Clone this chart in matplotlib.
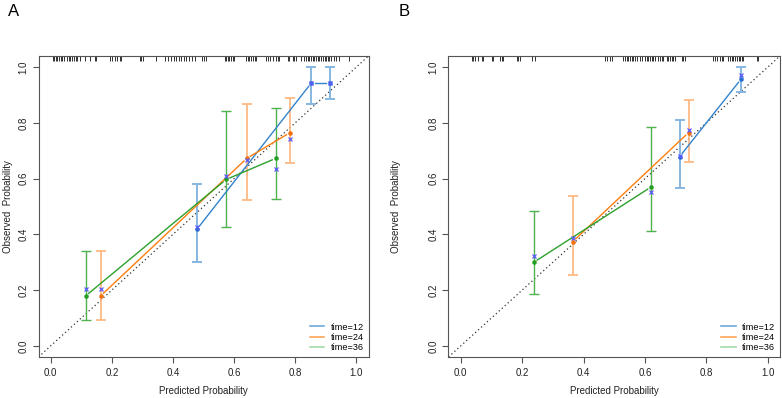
import matplotlib
matplotlib.use('Agg')
import matplotlib.pyplot as plt
import numpy as np
from matplotlib.lines import Line2D

plt.rcParams['font.family'] = ['Liberation Sans', 'DejaVu Sans']

# ---------------- data ----------------
series_labels = ['time=12', 'time=24', 'time=36']
line_colors = ['#3283cc', '#ff7f0e', '#2ca02c']
point_colors = ['#2a6fcf', '#f07010', '#23a023']
ebar_colors = ['#86b8e2', '#ffb47c', '#4fb24f']
ebar_widths = [1.4, 1.2, 1.0]
legend_colors = ['#6fa9dc', '#ffa65a', '#a6dca6']
cross_color = '#5a5aff'

# Panel A
a12_pred = [0.479, 0.852, 0.915]
a12_obs = [0.419, 0.942, 0.942]
a12_lo = [0.301, 0.866, 0.885]
a12_hi = [0.580, 1.000, 1.000]
a12_bc = [0.427, 0.942, 0.942]

a24_pred = [0.163, 0.642, 0.783]
a24_obs = [0.179, 0.673, 0.765]
a24_lo = [0.094, 0.523, 0.655]
a24_hi = [0.339, 0.866, 0.890]
a24_bc = [0.204, 0.668, 0.742]

a36_pred = [0.114, 0.574, 0.737]
a36_obs = [0.179, 0.597, 0.673]
a36_lo = [0.094, 0.425, 0.528]
a36_hi = [0.339, 0.842, 0.852]
a36_bc = [0.204, 0.610, 0.636]

a_rug = [0.006, 0.010, 0.016, 0.021, 0.027, 0.032, 0.038, 0.045, 0.053, 0.060,
         0.064, 0.071, 0.075, 0.082, 0.086, 0.095, 0.111, 0.127, 0.144, 0.149,
         0.193, 0.202, 0.209, 0.217, 0.226, 0.231, 0.291, 0.296, 0.302, 0.345,
         0.373, 0.383, 0.394, 0.405, 0.411, 0.419, 0.427, 0.435, 0.443, 0.454,
         0.463, 0.471, 0.496, 0.500, 0.507, 0.569, 0.574, 0.580, 0.585, 0.590,
         0.596, 0.601, 0.639, 0.645, 0.650, 0.656, 0.661, 0.667, 0.672, 0.705,
         0.710, 0.716, 0.727, 0.737, 0.743, 0.748, 0.776, 0.781, 0.792, 0.797,
         0.803, 0.819, 0.830, 0.836, 0.841, 0.846, 0.852, 0.857, 0.863, 0.868,
         0.874, 0.879, 0.885, 0.890, 0.896, 0.901, 0.906, 0.912, 0.917, 0.928,
         0.934, 0.944, 0.977]

# Panel B
b12_pred = [0.713, 0.913]
b12_obs = [0.679, 0.957]
b12_lo = [0.567, 0.912]
b12_hi = [0.812, 1.000]
b12_bc = [0.680, 0.971]

b24_pred = [0.365, 0.742]
b24_obs = [0.374, 0.765]
b24_lo = [0.256, 0.661]
b24_hi = [0.539, 0.882]
b24_bc = [0.386, 0.774]

b36_pred = [0.238, 0.620]
b36_obs = [0.300, 0.570]
b36_lo = [0.185, 0.411]
b36_hi = [0.485, 0.787]
b36_bc = [0.324, 0.551]

b_rug = [0.036, 0.041, 0.046, 0.057, 0.068, 0.074, 0.101, 0.106, 0.128, 0.133,
         0.139, 0.182, 0.188, 0.193, 0.231, 0.242, 0.470, 0.475, 0.486, 0.492,
         0.530, 0.535, 0.541, 0.546, 0.551, 0.557, 0.562, 0.568, 0.573, 0.584,
         0.589, 0.600, 0.606, 0.611, 0.617, 0.622, 0.627, 0.633, 0.644, 0.649,
         0.655, 0.660, 0.671, 0.676, 0.682, 0.687, 0.693, 0.698, 0.720, 0.725,
         0.731, 0.823, 0.828, 0.834, 0.845, 0.850, 0.855, 0.872, 0.877, 0.883,
         0.888, 0.894, 0.899, 0.905, 0.910, 0.916, 0.921, 0.964, 0.969]

ticks = [0.0, 0.2, 0.4, 0.6, 0.8, 1.0]
tick_labels = ['0.0', '0.2', '0.4', '0.6', '0.8', '1.0']

# ---------------- figure ----------------
W, H = 782, 398
fig = plt.figure(figsize=(W / 100, H / 100), dpi=100)


def px_axes(l, t, r, b):
    return fig.add_axes([l / W, 1 - b / H, (r - l) / W, (b - t) / H])


def gapped_line(ax, x, y, gap_px, **kw):
    pts = ax.transData.transform(np.column_stack([x, y]))
    inv = ax.transData.inverted()
    for i in range(len(pts) - 1):
        p0, p1 = pts[i], pts[i + 1]
        d = p1 - p0
        L = np.hypot(d[0], d[1])
        if L <= 2 * gap_px:
            continue
        u = d / L
        seg = inv.transform(np.array([p0 + u * gap_px, p1 - u * gap_px]))
        ax.plot(seg[:, 0], seg[:, 1], **kw)


def draw_panel(ax, data, rug, ylabel_x):
    ax.set_xlim(-0.04, 1.04)
    ax.set_ylim(-0.04, 1.04)
    ax.axline((0, 0), slope=1, color='#333333', lw=0.9, ls=(0, (1, 2.2)), zorder=1)
    ax.vlines(rug, 1.04 - 0.018, 1.04, color='#111111', lw=0.6, zorder=2)
    for i, (pred, obs, lo, hi, bc) in enumerate(data):
        pred = np.array(pred); obs = np.array(obs)
        lo = np.array(lo); hi = np.array(hi)
        ax.errorbar(pred, obs, yerr=[obs - lo, hi - obs], fmt='none',
                    ecolor=ebar_colors[i], elinewidth=ebar_widths[i],
                    capsize=3.5, capthick=ebar_widths[i], zorder=3)
        gapped_line(ax, pred, obs, 4.0, color=line_colors[i], lw=1.0, zorder=4)
        ax.plot(pred, obs, 'o', color=point_colors[i], ms=3.3, mec='none', zorder=5)
        ax.plot(pred, bc, 'x', color=cross_color, ms=3.5, mew=0.9, zorder=6)
    ax.set_xticks(ticks)
    ax.set_xticklabels(tick_labels)
    ax.set_yticks(ticks)
    ax.set_yticklabels(tick_labels, rotation=90, va='center')
    for s in ax.spines.values():
        s.set_color('#555555')
        s.set_linewidth(0.8)
    ax.tick_params(direction='out', length=4, width=0.8, color='#555555',
                   labelsize=7, labelcolor='#222222', pad=4)
    ax.tick_params(axis='y', pad=3)
    ax.set_xlabel('Predicted Probability', fontsize=7, color='#222222')
    ax.set_ylabel('Observed  Probability', fontsize=7, color='#222222')
    ax.xaxis.set_label_coords(0.5, -0.095)
    ax.yaxis.set_label_coords(ylabel_x, 0.5)
    handles = [Line2D([], [], color=c, lw=1.2) for c in legend_colors]
    ax.legend(handles, series_labels, loc='lower right', frameon=False,
              fontsize=6.6, handlelength=1.6, handletextpad=0.7,
              labelspacing=0.15, borderaxespad=0.1)


axA = px_axes(38.5, 56, 368.5, 357)
draw_panel(axA, [(a12_pred, a12_obs, a12_lo, a12_hi, a12_bc),
                 (a24_pred, a24_obs, a24_lo, a24_hi, a24_bc),
                 (a36_pred, a36_obs, a36_lo, a36_hi, a36_bc)], a_rug, -0.077)

axB = px_axes(448.5, 56, 780, 357)
draw_panel(axB, [(b12_pred, b12_obs, b12_lo, b12_hi, b12_bc),
                 (b24_pred, b24_obs, b24_lo, b24_hi, b24_bc),
                 (b36_pred, b36_obs, b36_lo, b36_hi, b36_bc)], b_rug, -0.143)

fig.text(14 / W, 1 - 11 / H, 'A', fontsize=12, ha='center', va='center')
fig.text(404 / W, 1 - 11 / H, 'B', fontsize=12, ha='center', va='center')

fig.savefig('out.png', dpi=100)
